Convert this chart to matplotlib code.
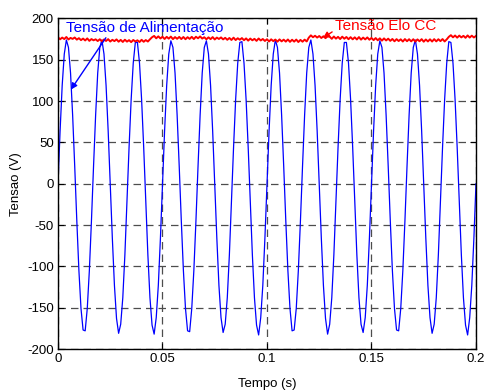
import matplotlib
matplotlib.use('Agg')
import matplotlib.pyplot as plt
import numpy as np

plt.rcParams['font.family'] = ['Liberation Sans', 'DejaVu Sans']
plt.rcParams['axes.unicode_minus'] = False

# sample times (ms), 1 ms step
tempo_ms = list(range(0, 201))

# supply voltage (V) at 1 ms steps
tensao_alim = [
    0, 64, 119, 157, 174, 165, 134, 83, 21, -45,
    -105, -151, -177, -178, -151, -105, -45, 21, 83, 134,
    165, 174, 157, 119, 64, 0, -66, -123, -163, -181,
    -170, -138, -86, -22, 44, 102, 146, 171, 171, 146,
    102, 44, -22, -86, -138, -171, -182, -162, -123, -66,
    0, 64, 119, 157, 173, 165, 134, 83, 21, -45,
    -105, -151, -178, -179, -151, -105, -45, 21, 83, 134,
    165, 173, 157, 119, 64, 0, -66, -123, -162, -180,
    -170, -138, -86, -22, 44, 102, 146, 171, 172, 146,
    102, 44, -22, -86, -138, -171, -183, -162, -123, -66,
    0, 64, 119, 157, 174, 165, 134, 83, 21, -45,
    -105, -151, -178, -177, -151, -105, -45, 21, 83, 134,
    165, 174, 157, 119, 64, 0, -66, -123, -163, -182,
    -170, -138, -86, -22, 44, 102, 146, 171, 171, 146,
    102, 44, -22, -86, -138, -170, -180, -162, -123, -66,
    0, 64, 119, 157, 173, 165, 134, 83, 21, -45,
    -105, -151, -177, -178, -151, -105, -45, 21, 83, 134,
    165, 174, 157, 119, 64, 0, -66, -123, -162, -181,
    -170, -138, -86, -22, 44, 102, 146, 172, 171, 146,
    102, 44, -22, -86, -138, -171, -183, -162, -123, -66,
    0,
]

# DC link voltage (V) at 1 ms steps
tensao_elo = [
    177.4, 174.8, 176.9, 175.1, 177.6, 174.6, 176.5, 175.3, 177.0, 174.4,
    176.2, 173.8, 175.7, 173.4, 175.9, 172.9, 175.1, 173.6, 174.8, 172.7,
    174.9, 172.3, 174.6, 172.8, 175.0, 172.1, 174.2, 172.6, 174.7, 171.9,
    174.1, 171.6, 174.3, 172.0, 173.8, 171.4, 174.0, 172.2, 173.6, 171.5,
    174.2, 171.8, 173.9, 172.1, 174.8, 177.3, 178.9, 176.0, 178.4, 175.8,
    177.9, 175.2, 177.8, 175.6, 178.1, 175.0, 177.5, 175.4, 177.7, 175.1,
    177.6, 174.9, 177.4, 175.3, 177.8, 175.1, 177.9, 176.0, 178.3, 175.7,
    177.3, 174.8, 177.2, 175.0, 177.5, 174.6, 176.9, 175.2, 177.1, 174.7,
    176.6, 174.2, 176.4, 174.0, 176.8, 173.9, 176.1, 174.3, 176.3, 173.7,
    175.9, 173.2, 175.7, 173.6, 175.4, 172.9, 175.8, 173.4, 175.2, 172.8,
    174.9, 172.2, 174.8, 172.6, 174.5, 171.9, 174.7, 172.3, 174.4, 172.0,
    174.6, 171.7, 174.3, 172.0, 174.5, 171.5, 174.1, 171.9, 174.4, 172.2,
    176.8, 179.6, 177.3, 179.1, 176.9, 178.8, 176.4, 178.5, 176.2, 178.6,
    177.9, 175.4, 178.2, 175.6, 177.8, 175.1, 178.0, 175.5, 177.6, 174.9,
    177.4, 174.8, 177.2, 174.6, 177.5, 174.4, 176.9, 174.7, 177.1, 174.3,
    176.5, 173.8, 176.3, 173.6, 176.0, 173.2, 175.9, 173.4, 175.6, 172.9,
    175.2, 172.4, 175.0, 172.7, 174.8, 172.1, 175.1, 172.5, 174.9, 172.3,
    174.9, 172.0, 174.7, 172.4, 175.0, 171.9, 174.6, 172.2, 174.8, 172.1,
    175.0, 172.3, 174.9, 172.6, 175.1, 172.2, 174.7, 177.8, 179.8, 177.2,
    179.4, 176.8, 179.3, 177.1, 179.0, 176.6, 179.5, 176.9, 179.2, 177.0,
    178.9,
]

x_ticks = [0, 0.05, 0.1, 0.15, 0.2]
x_tick_labels = ['0', '0.05', '0.1', '0.15', '0.2']
y_ticks = [-200, -150, -100, -50, 0, 50, 100, 150, 200]

t = np.array(tempo_ms) / 1000.0

fig = plt.figure(figsize=(4.85, 3.9), dpi=100)
ax = fig.add_axes([0.1196, 0.1051, 0.8618, 0.8475])

ax.plot(t, tensao_alim, color='#0000ff', linewidth=0.9)
ax.plot(t, tensao_elo, color='#ff0000', linewidth=1.4)

ax.set_xlim(0, 0.2)
ax.set_ylim(-200, 200)
ax.set_xticks(x_ticks)
ax.set_xticklabels(x_tick_labels)
ax.set_yticks(y_ticks)
ax.tick_params(direction='in', length=4, width=0.8, top=True, right=True,
               labelsize=9.5, pad=3)
ax.grid(True, linestyle=(0, (6, 4)), color='0.3', linewidth=0.9)
ax.set_axisbelow(True)
for s in ax.spines.values():
    s.set_linewidth(1.0)

ax.set_xlabel('Tempo (s)', fontsize=9.5, labelpad=9)
ax.set_ylabel('Tensao (V)', fontsize=9.5)
ax.yaxis.set_label_coords(-0.086, 0.5)

ax.annotate('Tensão de Alimentação', xy=(0.0062, 114), xytext=(0.0037, 188.5),
            color='#0000ff', fontsize=11, va='center', ha='left',
            arrowprops=dict(arrowstyle='-|>', color='#0000ff', lw=1.0,
                            mutation_scale=9, shrinkA=0, shrinkB=0,
                            relpos=(0.27, 0.05)))
ax.annotate('Tensão Elo CC', xy=(0.1268, 176.5), xytext=(0.1325, 191),
            color='#ff0000', fontsize=11, va='center', ha='left',
            arrowprops=dict(arrowstyle='-|>', color='#ff0000', lw=1.0,
                            mutation_scale=9, shrinkA=0, shrinkB=0,
                            relpos=(0.0, 0.2)))

fig.savefig('out.png', dpi=100)
